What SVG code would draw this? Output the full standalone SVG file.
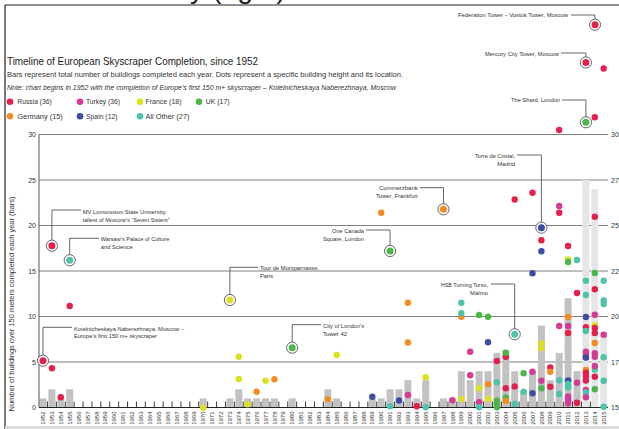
<svg xmlns="http://www.w3.org/2000/svg" width="619" height="429" viewBox="0 0 619 429">
<style>
text{font-family:"Liberation Sans",Arial,sans-serif;fill:#333}
.ttl{font-size:11.5px;fill:#1a1a1a}
.sub{font-size:7.4px}
.it{font-style:italic}
.lg{font-size:7.6px}
.ax{font-size:7px}
.yr{font-size:6px}
.cl{font-size:6.2px}
.big{font-size:27px;fill:#222}
.grid{stroke:#707070;stroke-width:0.9}
.bar{fill:#c2c2c2}
.lbar{fill:#e6e6e6}
.ld{fill:none;stroke:#555;stroke-width:0.9}
.ring{fill:#fff;stroke:#555;stroke-width:0.9}
.ru{fill:#e61e4d}.tr{fill:#d63b93}.fr{fill:#dbe021}.uk{fill:#4cb649}.de{fill:#f68b1f}.es{fill:#3c4ba5}.ot{fill:#4dc3aa}
</style>

<!-- frame -->
<g id="frame">
<path d="M5 5H619M5 5V429" stroke="#222" stroke-width="1.2" fill="none"/>
<rect x="5" y="426" width="614" height="3" fill="#dcdcdc"/>
<text class="big" x="190" y="-2" textLength="96" lengthAdjust="spacingAndGlyphs">y (right)</text>
</g>

<!-- header -->
<g id="header">
<text class="ttl" x="7" y="65" textLength="251" lengthAdjust="spacingAndGlyphs">Timeline of European Skyscraper Completion, since 1952</text>
<text class="sub" x="7" y="77" textLength="396" lengthAdjust="spacingAndGlyphs">Bars represent total number of buildings completed each year. Dots represent a specific building height and its location.</text>
<text class="sub it" x="7" y="90" textLength="389" lengthAdjust="spacingAndGlyphs">Note: chart begins in 1952 with the completion of Europe’s first 150 m+ skyscraper – Kotelnicheskaya Naberezhnaya, Moscow</text>
</g>

<!-- legend -->
<g id="legend">
<circle class="ru" cx="10" cy="101.7" r="3.3"/><text class="lg" x="17.3" y="104.4" textLength="34.5" lengthAdjust="spacingAndGlyphs">Russia (36)</text>
<circle class="tr" cx="80" cy="101.7" r="3.3"/><text class="lg" x="86" y="104.4" textLength="34" lengthAdjust="spacingAndGlyphs">Turkey (36)</text>
<circle class="fr" cx="140" cy="101.7" r="3.3"/><text class="lg" x="145.5" y="104.4" textLength="36" lengthAdjust="spacingAndGlyphs">France (18)</text>
<circle class="uk" cx="199" cy="101.7" r="3.3"/><text class="lg" x="205.7" y="104.4" textLength="24" lengthAdjust="spacingAndGlyphs">UK (17)</text>
<circle class="de" cx="10" cy="116.3" r="3.3"/><text class="lg" x="17.3" y="119" textLength="45.5" lengthAdjust="spacingAndGlyphs">Germany (15)</text>
<circle class="es" cx="80" cy="116.3" r="3.3"/><text class="lg" x="86" y="119" textLength="31.5" lengthAdjust="spacingAndGlyphs">Spain (12)</text>
<circle class="ot" cx="140" cy="116.3" r="3.3"/><text class="lg" x="145.5" y="119" textLength="44" lengthAdjust="spacingAndGlyphs">All Other (27)</text>
</g>

<!-- axes and grid -->
<g id="axes">
<path class="grid" d="M39 134.5H608M39 180H608M39 225.5H608M39 271H608M39 316.5H608M39 362H608"/>
<text class="ax" x="36" y="137" text-anchor="end">30</text>
<text class="ax" x="36" y="182.5" text-anchor="end">25</text>
<text class="ax" x="36" y="228" text-anchor="end">20</text>
<text class="ax" x="36" y="273.5" text-anchor="end">15</text>
<text class="ax" x="36" y="319" text-anchor="end">10</text>
<text class="ax" x="36" y="364.5" text-anchor="end">5</text>
<text class="ax" x="36" y="410" text-anchor="end">0</text>
<text class="ax" x="611" y="137">300</text>
<text class="ax" x="611" y="182.5">275</text>
<text class="ax" x="611" y="228">250</text>
<text class="ax" x="611" y="273.5">225</text>
<text class="ax" x="611" y="319">200</text>
<text class="ax" x="611" y="364.5">175</text>
<text class="ax" x="611" y="410">150</text>
<text class="ax" transform="translate(12,411.5) rotate(-90)" dy="0.35em" font-size="8" textLength="215" lengthAdjust="spacingAndGlyphs">Number of buildings over 150 meters completed each year (bars)</text>
</g>

<!-- bars -->
<g id="bars">
<rect class="bar" x="39.5" y="398.4" width="7" height="9.1"/>
<rect class="bar" x="48.4" y="389.3" width="7" height="18.2"/>
<rect class="bar" x="57.3" y="398.4" width="7" height="9.1"/>
<rect class="bar" x="66.2" y="389.3" width="7" height="18.2"/>
<rect class="bar" x="199.7" y="398.4" width="7" height="9.1"/>
<rect class="bar" x="226.4" y="398.4" width="7" height="9.1"/>
<rect class="bar" x="235.3" y="389.3" width="7" height="18.2"/>
<rect class="bar" x="244.2" y="398.4" width="7" height="9.1"/>
<rect class="bar" x="253.1" y="398.4" width="7" height="9.1"/>
<rect class="bar" x="262" y="398.4" width="7" height="9.1"/>
<rect class="bar" x="270.9" y="398.4" width="7" height="9.1"/>
<rect class="bar" x="288.7" y="398.4" width="7" height="9.1"/>
<rect class="bar" x="324.3" y="389.3" width="7" height="18.2"/>
<rect class="bar" x="333.2" y="398.4" width="7" height="9.1"/>
<rect class="bar" x="368.8" y="398.4" width="7" height="9.1"/>
<rect class="bar" x="377.7" y="398.4" width="7" height="9.1"/>
<rect class="bar" x="386.6" y="389.3" width="7" height="18.2"/>
<rect class="bar" x="395.5" y="389.3" width="7" height="18.2"/>
<rect class="bar" x="404.4" y="380.2" width="7" height="27.3"/>
<rect class="bar" x="413.3" y="398.4" width="7" height="9.1"/>
<rect class="bar" x="422.2" y="380.2" width="7" height="27.3"/>
<rect class="bar" x="440" y="398.4" width="7" height="9.1"/>
<rect class="bar" x="448.9" y="398.4" width="7" height="9.1"/>
<rect class="bar" x="457.8" y="371.1" width="7" height="36.4"/>
<rect class="bar" x="466.7" y="380.2" width="7" height="27.3"/>
<rect class="bar" x="475.6" y="371.1" width="7" height="36.4"/>
<rect class="bar" x="484.5" y="371.1" width="7" height="36.4"/>
<rect class="bar" x="493.4" y="352.9" width="7" height="54.6"/>
<rect class="bar" x="502.3" y="350.5" width="7" height="57"/>
<rect class="bar" x="511.2" y="371.1" width="7" height="36.4"/>
<rect class="bar" x="520.1" y="391.5" width="7" height="16"/>
<rect class="bar" x="529" y="371.1" width="7" height="36.4"/>
<rect class="bar" x="537.9" y="325.6" width="7" height="81.9"/>
<rect class="bar" x="546.8" y="380.2" width="7" height="27.3"/>
<rect class="bar" x="555.7" y="352.9" width="7" height="54.6"/>
<rect class="bar" x="564.6" y="298.3" width="7" height="109.2"/>
<rect class="bar" x="573.5" y="371.1" width="7" height="36.4"/>
<rect class="lbar" x="582.4" y="180" width="7" height="227.5"/>
<rect class="lbar" x="591.3" y="189.1" width="7" height="218.4"/>
<rect class="lbar" x="600.2" y="332" width="7" height="75.5"/>
<path d="M39 407.5H608" stroke="#222" stroke-width="1"/>
<path d="M47.45 401.5v6m8.9-6v6m8.9-6v6m8.9-6v6m8.9-6v6m8.9-6v6m8.9-6v6m8.9-6v6m8.9-6v6m8.9-6v6m8.9-6v6m8.9-6v6m8.9-6v6m8.9-6v6m8.9-6v6m8.9-6v6m8.9-6v6m8.9-6v6m8.9-6v6m8.9-6v6m8.9-6v6m8.9-6v6m8.9-6v6m8.9-6v6m8.9-6v6m8.9-6v6m8.9-6v6m8.9-6v6m8.9-6v6m8.9-6v6m8.9-6v6m8.9-6v6m8.9-6v6m8.9-6v6m8.9-6v6m8.9-6v6m8.9-6v6m8.9-6v6m8.9-6v6m8.9-6v6m8.9-6v6m8.9-6v6m8.9-6v6m8.9-6v6m8.9-6v6m8.9-6v6m8.9-6v6m8.9-6v6m8.9-6v6m8.9-6v6m8.9-6v6m8.9-6v6m8.9-6v6m8.9-6v6m8.9-6v6m8.9-6v6m8.9-6v6m8.9-6v6m8.9-6v6m8.9-6v6m8.9-6v6m8.9-6v6" stroke="#222" stroke-width="0.9" fill="none"/>
<path d="M39 134.5V407.5" stroke="#555" stroke-width="1"/>
</g>

<!-- year labels -->
<g id="years" text-anchor="end">
<text class="yr" transform="translate(43,411.5) rotate(-90)" dy="0.35em">1952</text>
<text class="yr" transform="translate(51.9,411.5) rotate(-90)" dy="0.35em">1953</text>
<text class="yr" transform="translate(60.8,411.5) rotate(-90)" dy="0.35em">1954</text>
<text class="yr" transform="translate(69.7,411.5) rotate(-90)" dy="0.35em">1955</text>
<text class="yr" transform="translate(78.6,411.5) rotate(-90)" dy="0.35em">1956</text>
<text class="yr" transform="translate(87.5,411.5) rotate(-90)" dy="0.35em">1957</text>
<text class="yr" transform="translate(96.4,411.5) rotate(-90)" dy="0.35em">1958</text>
<text class="yr" transform="translate(105.3,411.5) rotate(-90)" dy="0.35em">1959</text>
<text class="yr" transform="translate(114.2,411.5) rotate(-90)" dy="0.35em">1960</text>
<text class="yr" transform="translate(123.1,411.5) rotate(-90)" dy="0.35em">1961</text>
<text class="yr" transform="translate(132,411.5) rotate(-90)" dy="0.35em">1962</text>
<text class="yr" transform="translate(140.9,411.5) rotate(-90)" dy="0.35em">1963</text>
<text class="yr" transform="translate(149.8,411.5) rotate(-90)" dy="0.35em">1964</text>
<text class="yr" transform="translate(158.7,411.5) rotate(-90)" dy="0.35em">1965</text>
<text class="yr" transform="translate(167.6,411.5) rotate(-90)" dy="0.35em">1966</text>
<text class="yr" transform="translate(176.5,411.5) rotate(-90)" dy="0.35em">1967</text>
<text class="yr" transform="translate(185.4,411.5) rotate(-90)" dy="0.35em">1968</text>
<text class="yr" transform="translate(194.3,411.5) rotate(-90)" dy="0.35em">1969</text>
<text class="yr" transform="translate(203.2,411.5) rotate(-90)" dy="0.35em">1970</text>
<text class="yr" transform="translate(212.1,411.5) rotate(-90)" dy="0.35em">1971</text>
<text class="yr" transform="translate(221,411.5) rotate(-90)" dy="0.35em">1972</text>
<text class="yr" transform="translate(229.9,411.5) rotate(-90)" dy="0.35em">1973</text>
<text class="yr" transform="translate(238.8,411.5) rotate(-90)" dy="0.35em">1974</text>
<text class="yr" transform="translate(247.7,411.5) rotate(-90)" dy="0.35em">1975</text>
<text class="yr" transform="translate(256.6,411.5) rotate(-90)" dy="0.35em">1976</text>
<text class="yr" transform="translate(265.5,411.5) rotate(-90)" dy="0.35em">1977</text>
<text class="yr" transform="translate(274.4,411.5) rotate(-90)" dy="0.35em">1978</text>
<text class="yr" transform="translate(283.3,411.5) rotate(-90)" dy="0.35em">1979</text>
<text class="yr" transform="translate(292.2,411.5) rotate(-90)" dy="0.35em">1980</text>
<text class="yr" transform="translate(301.1,411.5) rotate(-90)" dy="0.35em">1981</text>
<text class="yr" transform="translate(310,411.5) rotate(-90)" dy="0.35em">1982</text>
<text class="yr" transform="translate(318.9,411.5) rotate(-90)" dy="0.35em">1983</text>
<text class="yr" transform="translate(327.8,411.5) rotate(-90)" dy="0.35em">1984</text>
<text class="yr" transform="translate(336.7,411.5) rotate(-90)" dy="0.35em">1985</text>
<text class="yr" transform="translate(345.6,411.5) rotate(-90)" dy="0.35em">1986</text>
<text class="yr" transform="translate(354.5,411.5) rotate(-90)" dy="0.35em">1987</text>
<text class="yr" transform="translate(363.4,411.5) rotate(-90)" dy="0.35em">1988</text>
<text class="yr" transform="translate(372.3,411.5) rotate(-90)" dy="0.35em">1989</text>
<text class="yr" transform="translate(381.2,411.5) rotate(-90)" dy="0.35em">1990</text>
<text class="yr" transform="translate(390.1,411.5) rotate(-90)" dy="0.35em">1991</text>
<text class="yr" transform="translate(399,411.5) rotate(-90)" dy="0.35em">1992</text>
<text class="yr" transform="translate(407.9,411.5) rotate(-90)" dy="0.35em">1993</text>
<text class="yr" transform="translate(416.8,411.5) rotate(-90)" dy="0.35em">1994</text>
<text class="yr" transform="translate(425.7,411.5) rotate(-90)" dy="0.35em">1995</text>
<text class="yr" transform="translate(434.6,411.5) rotate(-90)" dy="0.35em">1996</text>
<text class="yr" transform="translate(443.5,411.5) rotate(-90)" dy="0.35em">1997</text>
<text class="yr" transform="translate(452.4,411.5) rotate(-90)" dy="0.35em">1998</text>
<text class="yr" transform="translate(461.3,411.5) rotate(-90)" dy="0.35em">1999</text>
<text class="yr" transform="translate(470.2,411.5) rotate(-90)" dy="0.35em">2000</text>
<text class="yr" transform="translate(479.1,411.5) rotate(-90)" dy="0.35em">2001</text>
<text class="yr" transform="translate(488,411.5) rotate(-90)" dy="0.35em">2002</text>
<text class="yr" transform="translate(496.9,411.5) rotate(-90)" dy="0.35em">2003</text>
<text class="yr" transform="translate(505.8,411.5) rotate(-90)" dy="0.35em">2004</text>
<text class="yr" transform="translate(514.7,411.5) rotate(-90)" dy="0.35em">2005</text>
<text class="yr" transform="translate(523.6,411.5) rotate(-90)" dy="0.35em">2006</text>
<text class="yr" transform="translate(532.5,411.5) rotate(-90)" dy="0.35em">2007</text>
<text class="yr" transform="translate(541.4,411.5) rotate(-90)" dy="0.35em">2008</text>
<text class="yr" transform="translate(550.3,411.5) rotate(-90)" dy="0.35em">2009</text>
<text class="yr" transform="translate(559.2,411.5) rotate(-90)" dy="0.35em">2010</text>
<text class="yr" transform="translate(568.1,411.5) rotate(-90)" dy="0.35em">2011</text>
<text class="yr" transform="translate(577,411.5) rotate(-90)" dy="0.35em">2012</text>
<text class="yr" transform="translate(585.9,411.5) rotate(-90)" dy="0.35em">2013</text>
<text class="yr" transform="translate(594.8,411.5) rotate(-90)" dy="0.35em">2014</text>
<text class="yr" transform="translate(603.7,411.5) rotate(-90)" dy="0.35em">2015</text>
</g>

<!-- plain dots -->
<g id="dots">
<circle class="ru" cx="51.9" cy="368.3" r="3.2"/>
<circle class="ru" cx="60.8" cy="397.3" r="3.2"/>
<circle class="ru" cx="69.7" cy="306" r="3.2"/>
<circle class="ru" cx="416.8" cy="406.3" r="3.2"/>
<circle class="ru" cx="496.9" cy="361" r="3.2"/>
<circle class="ru" cx="505.8" cy="356.7" r="3.2"/>
<circle class="ru" cx="505.8" cy="388.3" r="3.2"/>
<circle class="ru" cx="514.7" cy="386.5" r="3.2"/>
<circle class="ru" cx="514.7" cy="199.5" r="3.2"/>
<circle class="ru" cx="532.5" cy="192.7" r="3.2"/>
<circle class="ru" cx="541.4" cy="240.3" r="3.2"/>
<circle class="ru" cx="550.3" cy="367.5" r="3.2"/>
<circle class="ru" cx="550.3" cy="386.7" r="3.2"/>
<circle class="ru" cx="559.2" cy="130" r="3.2"/>
<circle class="ru" cx="559.2" cy="212.7" r="3.2"/>
<circle class="ru" cx="568.1" cy="246" r="3.2"/>
<circle class="ru" cx="568.1" cy="333" r="3.2"/>
<circle class="ru" cx="577" cy="293" r="3.2"/>
<circle class="ru" cx="577" cy="402.7" r="3.2"/>
<circle class="ru" cx="594.8" cy="117.3" r="3.2"/>
<circle class="ru" cx="594.8" cy="216.7" r="3.2"/>
<circle class="ru" cx="594.8" cy="289.3" r="3.2"/>
<circle class="ru" cx="603.7" cy="68.5" r="3.2"/>

<circle class="tr" cx="407.9" cy="395" r="3.2"/>
<circle class="tr" cx="452.4" cy="400.3" r="3.2"/>
<circle class="tr" cx="470.2" cy="351.7" r="3.2"/>
<circle class="tr" cx="470.2" cy="375.3" r="3.2"/>
<circle class="tr" cx="479.1" cy="402.3" r="3.2"/>
<circle class="tr" cx="532.5" cy="371.7" r="3.2"/>
<circle class="tr" cx="541.4" cy="380.7" r="3.2"/>
<circle class="tr" cx="559.2" cy="206" r="3.2"/>
<circle class="tr" cx="559.2" cy="326" r="3.2"/>
<circle class="tr" cx="568.1" cy="326" r="3.2"/>
<circle class="tr" cx="568.1" cy="396.5" r="3.2"/>
<circle class="tr" cx="568.1" cy="400" r="3.2"/>
<circle class="tr" cx="568.1" cy="403.3" r="3.2"/>
<circle class="tr" cx="577" cy="382.7" r="3.2"/>
<circle class="tr" cx="594.8" cy="314.7" r="3.2"/>
<circle class="tr" cx="603.7" cy="334.7" r="3.2"/>

<circle class="fr" cx="203.2" cy="407.7" r="3.2"/>
<circle class="fr" cx="238.8" cy="356.7" r="3.2"/>
<circle class="fr" cx="238.8" cy="379" r="3.2"/>
<circle class="fr" cx="247.7" cy="404.3" r="3.2"/>
<circle class="fr" cx="265.5" cy="380.7" r="3.2"/>
<circle class="fr" cx="336.7" cy="355" r="3.2"/>
<circle class="fr" cx="425.7" cy="377.3" r="3.2"/>
<circle class="fr" cx="461.3" cy="399" r="3.2"/>
<circle class="fr" cx="479.1" cy="388.3" r="3.2"/>
<circle class="fr" cx="488" cy="399" r="3.2"/>
<circle class="fr" cx="541.4" cy="343.3" r="3.2"/>
<circle class="fr" cx="541.4" cy="348" r="3.2"/>
<circle class="fr" cx="568.1" cy="259.5" r="3.2"/>
<circle class="fr" cx="594.8" cy="325.3" r="3.2"/>

<circle class="uk" cx="479.1" cy="315" r="3.2"/>
<circle class="uk" cx="488" cy="316.7" r="3.2"/>
<circle class="uk" cx="496.9" cy="400.7" r="3.2"/>
<circle class="uk" cx="496.9" cy="404" r="3.2"/>
<circle class="uk" cx="496.9" cy="407.3" r="3.2"/>
<circle class="uk" cx="505.8" cy="352.7" r="3.2"/>
<circle class="uk" cx="505.8" cy="397.5" r="3.2"/>
<circle class="uk" cx="523.6" cy="373.3" r="3.2"/>
<circle class="uk" cx="541.4" cy="388.3" r="3.2"/>
<circle class="uk" cx="568.1" cy="262" r="3.2"/>
<circle class="uk" cx="594.8" cy="273" r="3.2"/>
<circle class="uk" cx="594.8" cy="389.3" r="3.2"/>

<circle class="de" cx="256.6" cy="391.7" r="3.2"/>
<circle class="de" cx="274.4" cy="379.3" r="3.2"/>
<circle class="de" cx="327.8" cy="399.3" r="3.2"/>
<circle class="de" cx="381.2" cy="212.7" r="3.2"/>
<circle class="de" cx="407.9" cy="302.7" r="3.2"/>
<circle class="de" cx="407.9" cy="342.5" r="3.2"/>
<circle class="de" cx="461.3" cy="316.7" r="3.2"/>
<circle class="de" cx="488" cy="384.3" r="3.2"/>
<circle class="de" cx="505.8" cy="401" r="3.2"/>
<circle class="de" cx="550.3" cy="371.7" r="3.2"/>
<circle class="de" cx="568.1" cy="317" r="3.2"/>
<circle class="de" cx="585.9" cy="370" r="3.2"/>
<circle class="de" cx="594.8" cy="343" r="3.2"/>

<circle class="es" cx="372.3" cy="396.7" r="3.2"/>
<circle class="es" cx="399" cy="400.5" r="3.2"/>
<circle class="es" cx="488" cy="342.3" r="3.2"/>
<circle class="es" cx="532.5" cy="273.3" r="3.2"/>
<circle class="es" cx="532.5" cy="393.3" r="3.2"/>
<circle class="es" cx="541.4" cy="251.3" r="3.2"/>
<circle class="es" cx="568.1" cy="380.5" r="3.2"/>
<circle class="es" cx="585.9" cy="317" r="3.2"/>
<circle class="es" cx="585.9" cy="357.3" r="3.2"/>

<circle class="ot" cx="390.1" cy="406.3" r="3.2"/>
<circle class="ot" cx="425.7" cy="407.3" r="3.2"/>
<circle class="ot" cx="461.3" cy="302.7" r="3.2"/>
<circle class="ot" cx="461.3" cy="313.3" r="3.2"/>
<circle class="ot" cx="479.1" cy="407.3" r="3.2"/>
<circle class="ot" cx="496.9" cy="382.3" r="3.2"/>
<circle class="ot" cx="514.7" cy="404" r="3.2"/>
<circle class="ot" cx="523.6" cy="391.7" r="3.2"/>
<circle class="ot" cx="559.2" cy="380.3" r="3.2"/>
<circle class="ot" cx="559.2" cy="394" r="3.2"/>
<circle class="ot" cx="568.1" cy="384" r="3.2"/>
<circle class="ot" cx="568.1" cy="387.3" r="3.2"/>
<circle class="ot" cx="577" cy="260" r="3.2"/>
<circle class="ot" cx="585.9" cy="280.7" r="3.2"/>
<circle class="ot" cx="585.9" cy="295" r="3.2"/>
<circle class="ot" cx="594.8" cy="369.5" r="3.2"/>
<circle class="ot" cx="603.7" cy="280.7" r="3.2"/>
<circle class="ot" cx="603.7" cy="300.5" r="3.2"/>
<circle class="ot" cx="603.7" cy="304" r="3.2"/>
<circle class="ot" cx="603.7" cy="357.3" r="3.2"/>
<circle class="ot" cx="603.7" cy="380.7" r="3.2"/>
<circle class="ot" cx="603.7" cy="406.7" r="3.2"/>

<!-- 2013 / 2014 stacks -->
<circle class="ru" cx="585.9" cy="327.3" r="3.2"/>
<circle class="ot" cx="585.9" cy="331" r="3.2"/>
<circle class="tr" cx="585.9" cy="351.7" r="3.2"/>
<circle class="tr" cx="585.9" cy="354.3" r="3.2"/>
<circle class="es" cx="585.9" cy="357.5" r="3.2"/>
<circle class="ru" cx="585.9" cy="372.7" r="3.2"/>
<circle class="ru" cx="585.9" cy="376.5" r="3.2"/>
<circle class="ru" cx="585.9" cy="380.5" r="3.2"/>
<circle class="tr" cx="585.9" cy="390" r="3.2"/>
<circle class="ot" cx="585.9" cy="392.5" r="3.2"/>
<circle class="tr" cx="585.9" cy="397.3" r="3.2"/>
<circle class="ru" cx="594.8" cy="328" r="3.2"/>
<circle class="ru" cx="594.8" cy="333" r="3.2"/>
<circle class="tr" cx="594.8" cy="353.3" r="3.2"/>
<circle class="tr" cx="594.8" cy="356.7" r="3.2"/>
<circle class="tr" cx="594.8" cy="366" r="3.2"/>
<circle class="ru" cx="594.8" cy="376.7" r="3.2"/>
</g>

<!-- connectors -->
<g id="connectors" class="ld">
<path class="ld" d="M571 15H595V19.2"/>
<path class="ld" d="M561 53H585.9V57"/>
<path class="ld" d="M562 100H585.9V116.8"/>
<path class="ld" d="M81 210H51.9V240.2"/>
<path class="ld" d="M99 238.3H69.7V254.8"/>
<path class="ld" d="M72 327.3H43V355.2"/>
<path class="ld" d="M258 267.3H229.9V294.5"/>
<path class="ld" d="M321 324.7H292.2V342.2"/>
<path class="ld" d="M366 230H390.1V245.5"/>
<path class="ld" d="M420 187.7H443.5V203.8"/>
<path class="ld" d="M517 155H541.4V222.2"/>
<path class="ld" d="M491 284H514.7V328.8"/>
</g>

<!-- highlighted buildings -->
<g id="n-federation">
<circle class="ring" cx="595" cy="24.7" r="5.6"/><circle class="ru" cx="595" cy="24.7" r="3.5"/>
<text class="cl" x="568" y="17.3" text-anchor="end" textLength="110" lengthAdjust="spacingAndGlyphs">Federation Tower – Vostok Tower, Moscow</text>
</g>
<g id="n-mercury">
<circle class="ring" cx="585.9" cy="62.5" r="5.6"/><circle class="ru" cx="585.9" cy="62.5" r="3.5"/>
<text class="cl" x="559" y="55.5" text-anchor="end" textLength="74" lengthAdjust="spacingAndGlyphs">Mercury City Tower, Moscow</text>
</g>
<g id="n-shard">
<circle class="ring" cx="585.9" cy="122.3" r="5.6"/><circle class="uk" cx="585.9" cy="122.3" r="3.5"/>
<text class="cl" x="560" y="102.2" text-anchor="end" textLength="49" lengthAdjust="spacingAndGlyphs">The Shard, London</text>
</g>
<g id="n-lomonosov">
<circle class="ring" cx="51.9" cy="245.7" r="5.6"/><circle class="ru" cx="51.9" cy="245.7" r="3.5"/>
<text class="cl" x="82.7" y="214.3" textLength="84" lengthAdjust="spacingAndGlyphs">MV Lomonosov State University,</text>
<text class="cl" x="82.7" y="222.3" textLength="87" lengthAdjust="spacingAndGlyphs">tallest of Moscow’s “Seven Sisters”</text>
</g>
<g id="n-warsaw">
<circle class="ring" cx="69.7" cy="260.3" r="5.6"/><circle class="ot" cx="69.7" cy="260.3" r="3.5"/>
<text class="cl" x="100.7" y="241.3" textLength="68.6" lengthAdjust="spacingAndGlyphs">Warsaw’s Palace of Culture</text>
<text class="cl" x="100.7" y="249.3" textLength="32" lengthAdjust="spacingAndGlyphs">and Science</text>
</g>
<g id="n-kotelnicheskaya">
<circle class="ring" cx="43" cy="360.7" r="5.6"/><circle class="ru" cx="43" cy="360.7" r="3.5"/>
<text class="cl" x="74" y="330.5" textLength="110" lengthAdjust="spacingAndGlyphs">Kotelnicheskaya Naberezhnaya, Moscow –</text>
<text class="cl" x="74" y="338.3" textLength="83" lengthAdjust="spacingAndGlyphs">Europe’s first 150 m+ skyscraper</text>
</g>
<g id="n-montparnasse">
<circle class="ring" cx="229.9" cy="300" r="5.6"/><circle class="fr" cx="229.9" cy="300" r="3.5"/>
<text class="cl" x="260" y="270" textLength="59" lengthAdjust="spacingAndGlyphs">Tour de Montparnasse,</text>
<text class="cl" x="260" y="277.8" textLength="13" lengthAdjust="spacingAndGlyphs">Paris</text>
</g>
<g id="n-tower42">
<circle class="ring" cx="292.2" cy="347.7" r="5.6"/><circle class="uk" cx="292.2" cy="347.7" r="3.5"/>
<text class="cl" x="323" y="328" textLength="41" lengthAdjust="spacingAndGlyphs">City of London’s</text>
<text class="cl" x="323" y="335.8" textLength="24" lengthAdjust="spacingAndGlyphs">Tower 42</text>
</g>
<g id="n-canada">
<circle class="ring" cx="390.1" cy="251" r="5.6"/><circle class="uk" cx="390.1" cy="251" r="3.5"/>
<text class="cl" x="364" y="232.5" text-anchor="end" textLength="32" lengthAdjust="spacingAndGlyphs">One Canada</text>
<text class="cl" x="364" y="240.5" text-anchor="end" textLength="41" lengthAdjust="spacingAndGlyphs">Square, London</text>
</g>
<g id="n-commerzbank">
<circle class="ring" cx="443.5" cy="209.3" r="5.6"/><circle class="de" cx="443.5" cy="209.3" r="3.5"/>
<text class="cl" x="417.7" y="190" text-anchor="end" textLength="38.7" lengthAdjust="spacingAndGlyphs">Commerzbank</text>
<text class="cl" x="417.7" y="198" text-anchor="end" textLength="41.7" lengthAdjust="spacingAndGlyphs">Tower, Frankfurt</text>
</g>
<g id="n-cristal">
<circle class="ring" cx="541.4" cy="227.7" r="5.6"/><circle class="es" cx="541.4" cy="227.7" r="3.5"/>
<text class="cl" x="515" y="157.5" text-anchor="end" textLength="40" lengthAdjust="spacingAndGlyphs">Torre de Cristal,</text>
<text class="cl" x="515" y="165.8" text-anchor="end" textLength="17.7" lengthAdjust="spacingAndGlyphs">Madrid</text>
</g>
<g id="n-torso">
<circle class="ring" cx="514.7" cy="334.3" r="5.6"/><circle class="ot" cx="514.7" cy="334.3" r="3.5"/>
<text class="cl" x="488" y="286.5" text-anchor="end" textLength="47.3" lengthAdjust="spacingAndGlyphs">HSB Turning Torso,</text>
<text class="cl" x="488" y="294.5" text-anchor="end" textLength="18" lengthAdjust="spacingAndGlyphs">Malmo</text>
</g>
</svg>
